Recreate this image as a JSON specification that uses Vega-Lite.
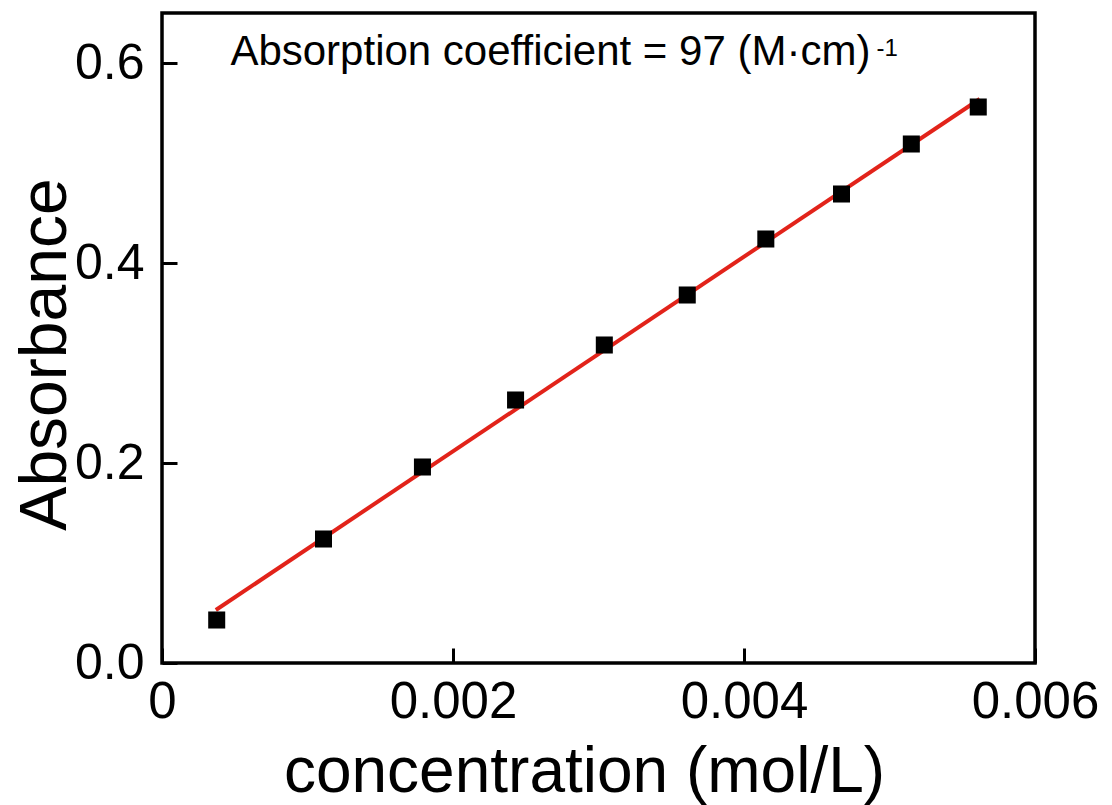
{
  "$schema": "https://vega.github.io/schema/vega-lite/v6.json",
  "width": 873,
  "height": 650,
  "autosize": "none",
  "padding": {"left": 162, "top": 13, "right": 77, "bottom": 142},
  "background": "white",
  "config": {
    "view": {"stroke": "black", "strokeWidth": 3.5},
    "font": "Liberation Sans"
  },
  "datasets": {
    "points": [
      {"conc": 0.000376, "abs": 0.043},
      {"conc": 0.00111, "abs": 0.124},
      {"conc": 0.00179, "abs": 0.196},
      {"conc": 0.00243, "abs": 0.263},
      {"conc": 0.00304, "abs": 0.318},
      {"conc": 0.00361, "abs": 0.368},
      {"conc": 0.00415, "abs": 0.424},
      {"conc": 0.00467, "abs": 0.469},
      {"conc": 0.00515, "abs": 0.519},
      {"conc": 0.00561, "abs": 0.556}
    ],
    "fit": [
      {"conc": 0.00037, "abs": 0.053},
      {"conc": 0.00562, "abs": 0.564}
    ],
    "notes": [
      {"conc": 0.00047, "abs": 0.598, "label": "Absorption coefficient = 97  (M·cm)", "size": 42},
      {"conc": 0.00491, "abs": 0.607, "label": "-1", "size": 24}
    ]
  },
  "layer": [
    {
      "data": {"name": "fit"},
      "mark": {"type": "line", "color": "#e2231a", "strokeWidth": 4},
      "encoding": {
        "x": {
          "field": "conc", "type": "quantitative",
          "scale": {"domain": [0, 0.006], "nice": false, "zero": false},
          "axis": {
            "title": "concentration (mol/L)",
            "values": [0, 0.002, 0.004, 0.006],
            "labelExpr": "datum.value == 0 ? '0' : format(datum.value, '.3f')",
            "domain": false,
            "grid": false,
            "ticks": true,
            "tickSize": -15,
            "tickWidth": 3,
            "tickColor": "black",
            "labelFontSize": 51,
            "labelColor": "black",
            "labelPadding": 29,
            "labelFlush": false,
            "labelBound": false,
            "labelOverlap": false,
            "titleFontSize": 64,
            "titleFontWeight": "normal",
            "titleColor": "black",
            "titleBaseline": "alphabetic",
            "titleAnchor": "start",
            "titleAlign": "center",
            "titleX": 422,
            "titleY": 128
          }
        },
        "y": {
          "field": "abs", "type": "quantitative",
          "scale": {"domain": [0, 0.65], "nice": false, "zero": false},
          "axis": {
            "title": "Absorbance",
            "values": [0, 0.2, 0.4, 0.6],
            "format": ".1f",
            "domain": false,
            "grid": false,
            "tickSize": -15,
            "tickWidth": 3,
            "tickColor": "black",
            "labelFontSize": 50,
            "labelColor": "black",
            "labelPadding": 33,
            "labelFlush": false,
            "labelBound": false,
            "labelOverlap": false,
            "titleFontSize": 66,
            "titleFontWeight": "normal",
            "titleColor": "black",
            "titleBaseline": "alphabetic",
            "titleAngle": -90,
            "titleAlign": "center",
            "titleAnchor": "start",
            "titleX": -97,
            "titleY": 341
          }
        }
      }
    },
    {
      "data": {"name": "points"},
      "mark": {"type": "point", "shape": "square", "filled": true, "color": "black", "size": 290, "opacity": 1},
      "encoding": {
        "x": {"field": "conc", "type": "quantitative"},
        "y": {"field": "abs", "type": "quantitative"}
      }
    },
    {
      "data": {"name": "notes"},
      "mark": {"type": "text", "align": "left", "baseline": "alphabetic", "color": "black", "font": "Liberation Sans"},
      "encoding": {
        "x": {"field": "conc", "type": "quantitative"},
        "y": {"field": "abs", "type": "quantitative"},
        "text": {"field": "label"},
        "size": {"field": "size", "type": "quantitative", "scale": null, "legend": null}
      }
    }
  ]
}
